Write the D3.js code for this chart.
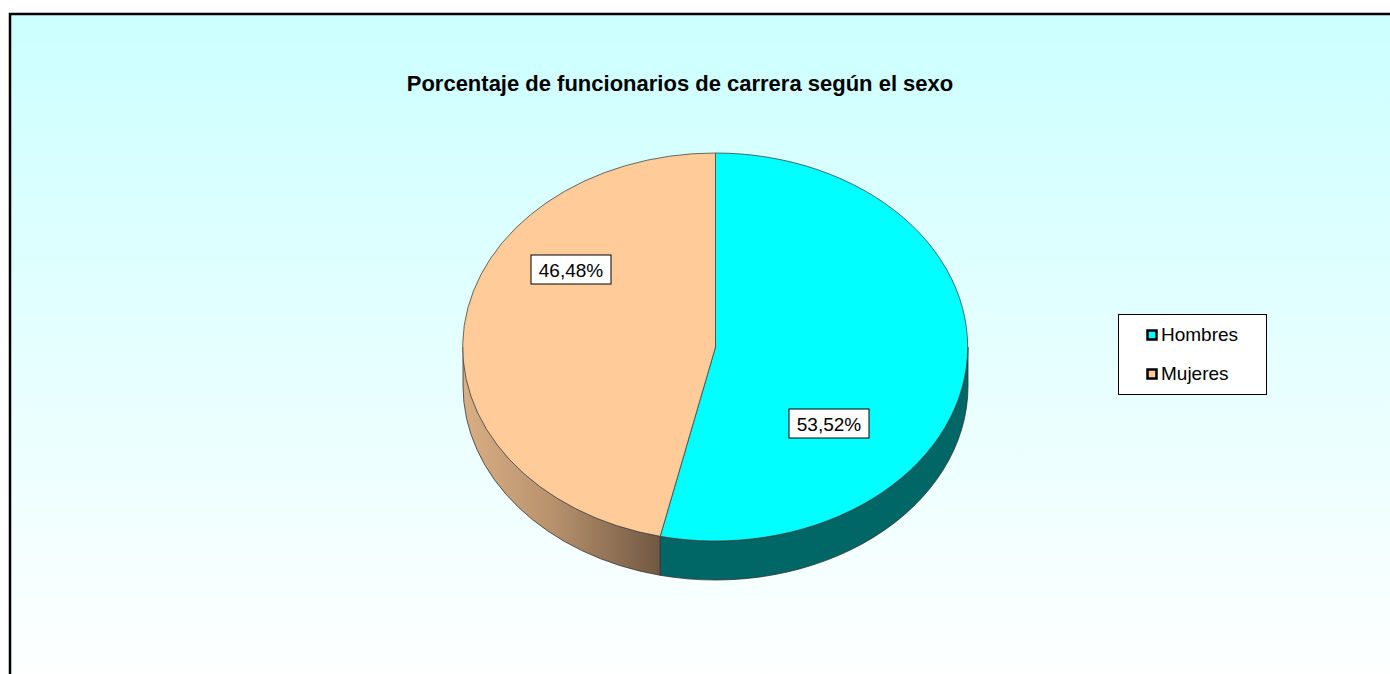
<!DOCTYPE html>
<html><head><meta charset="utf-8">
<script src="https://cdn.jsdelivr.net/npm/d3@7"></script>
<style>html,body{margin:0;padding:0;background:#fff;overflow:hidden}svg{display:block}text{font-family:"Liberation Sans",Arial,sans-serif;fill:#000}</style>
</head><body><svg id="c" width="1390" height="674"></svg>
<script>
const categories = ["Hombres", "Mujeres"];
const values = [53.52, 46.48];
const valueLabels = ["53,52%", "46,48%"];
const colors = ["#00FFFF", "#FFCC99"];
const titleText = "Porcentaje de funcionarios de carrera según el sexo";

const svg = d3.select("#c");
const defs = svg.append("defs");
const bg = defs.append("linearGradient").attr("id","bg").attr("x1",0).attr("y1",0).attr("x2",0).attr("y2",1);
bg.append("stop").attr("offset","0%").attr("stop-color","#CCFFFF");
bg.append("stop").attr("offset","100%").attr("stop-color","#FFFFFF");
const wm = defs.append("linearGradient").attr("id","wallM").attr("gradientUnits","userSpaceOnUse")
  .attr("x1",463).attr("y1",0).attr("x2",660).attr("y2",0);
wm.append("stop").attr("offset","0%").attr("stop-color","#D9AE84");
wm.append("stop").attr("offset","45%").attr("stop-color","#B8926D");
wm.append("stop").attr("offset","100%").attr("stop-color","#715842");

svg.append("rect").attr("x",10).attr("y",14).attr("width",1400).attr("height",680)
  .attr("fill","url(#bg)").attr("stroke","#000").attr("stroke-width",2.5);

svg.append("text").attr("x",680).attr("y",91).attr("text-anchor","middle")
  .attr("font-size",22).attr("font-weight","bold").text(titleText);

const cx=715.5, cy=347, rx=252.5, ry=194, depth=39;
const pie = d3.pie().sort(null).value(d=>d);
const arcs = pie(values);
const arcGen = d3.arc().innerRadius(0).outerRadius(1);
const px = a => cx + rx*Math.sin(a), py = a => cy - ry*Math.cos(a);

// side walls: only the front half of the rim is visible
const wallFills = ["#006666", "url(#wallM)"];
const walls = svg.append("g");
arcs.forEach((d,i)=>{
  const a0 = Math.max(d.startAngle, Math.PI/2), a1 = Math.min(d.endAngle, 3*Math.PI/2);
  if (a1 <= a0) return;
  const p = `M${px(a0)},${py(a0)}A${rx},${ry} 0 0 1 ${px(a1)},${py(a1)}`+
            `L${px(a1)},${py(a1)+depth}A${rx},${ry} 0 0 0 ${px(a0)},${py(a0)+depth}Z`;
  walls.append("path").attr("d",p).attr("fill",wallFills[i]).attr("stroke","#333").attr("stroke-width",0.8);
});
// top face
const face = svg.append("g").attr("transform",`translate(${cx},${cy}) scale(${rx},${ry})`);
face.selectAll("path").data(arcs).join("path")
  .attr("d",arcGen).attr("fill",(d,i)=>colors[i])
  .attr("stroke","#444").attr("stroke-width",0.8).attr("vector-effect","non-scaling-stroke");

// value labels (placement within each slice, as offsets from the pie centre)
const labelCentres = [[113.5,76.5],[-144.5,-77.5]];
const boxW=80, boxH=29;
const labels = svg.append("g");
arcs.forEach((d,i)=>{
  const e = labels.append("g").attr("transform",`translate(${cx+labelCentres[i][0]},${cy+labelCentres[i][1]})`);
  e.append("rect").attr("x",-boxW/2).attr("y",-boxH/2).attr("width",boxW).attr("height",boxH)
    .attr("fill","#fff").attr("stroke","#000").attr("stroke-width",1);
  e.append("text").attr("text-anchor","middle").attr("y",7).attr("font-size",19).text(valueLabels[i]);
});

// legend
const leg = svg.append("g");
leg.append("rect").attr("x",1118.5).attr("y",314.5).attr("width",148).attr("height",80)
  .attr("fill","#fff").attr("stroke","#000").attr("stroke-width",1);
const legendY = d3.scalePoint().domain(categories).range([335,374]);
categories.forEach((c,i)=>{
  leg.append("rect").attr("x",1147.5).attr("y",legendY(c)-4.5).attr("width",9).attr("height",9)
    .attr("fill",colors[i]).attr("stroke","#000").attr("stroke-width",2.5);
  leg.append("text").attr("x",1161).attr("y",legendY(c)+6).attr("font-size",19).text(c);
});
</script></body></html>
